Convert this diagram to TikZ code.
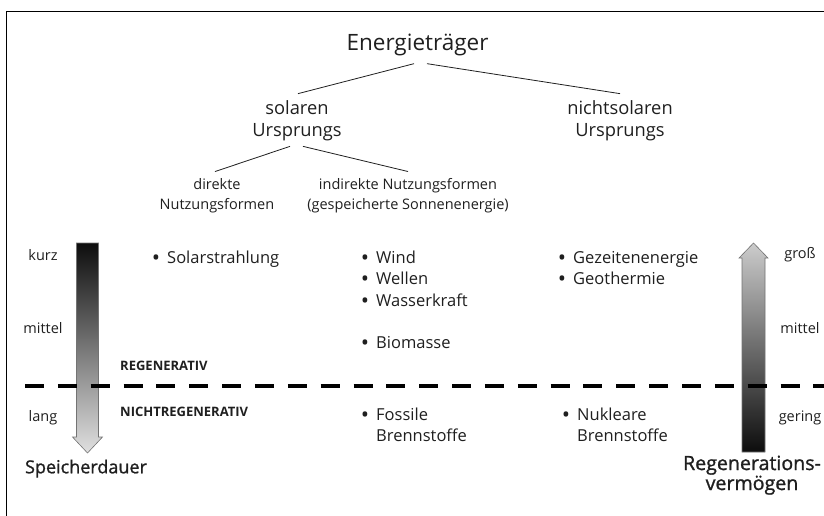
\documentclass[tikz,border=0pt]{standalone}
\usepackage{fontspec}
\setmainfont{Open Sans}
\newfontfamily\semibold[FakeBold=1.2]{Open Sans}
\usetikzlibrary{positioning}

\definecolor{ink}{gray}{0.12}
\newcommand{\bul}{\llap{\raisebox{-2.2pt}{\fontsize{22}{22}\selectfont\textbullet}\hspace{7pt}}}

\tikzset{
  top/.style={font=\fontsize{22.5}{27}\selectfont},
  origin/.style={font=\fontsize{18.3}{22}\selectfont, align=center},
  usage/.style={font=\fontsize{14.5}{20}\selectfont, align=center},
  entry/.style={font=\fontsize{16.5}{21.7}\selectfont, align=left, anchor=base west},
  scalelabel/.style={font=\fontsize{14.5}{17}\selectfont, anchor=base},
  classlabel/.style={font=\bfseries\fontsize{13}{15}\selectfont, anchor=base west},
  axislabel/.style={font=\semibold\fontsize{18}{18.3}\selectfont, align=center, anchor=base},
  branch/.style={draw=ink, line width=0.8pt},
  divider/.style={line width=4pt, dash pattern=on 19pt off 13.85pt},
  bararrow/.style={draw=black!55, line width=0.6pt}
}

\begin{document}
\begin{tikzpicture}[x=1pt,y=-1pt, every node/.style={inner sep=0pt, text=ink}]
  \useasboundingbox (0,0) rectangle (824,515);
  \draw[line width=1.2pt] (6.5,11.5) rectangle (840,530);

  % tree
  \node[top] (traeger) at (417.5,44.5) {Energieträger};
  \node[origin] (solar) at (297,121) {solaren\\Ursprungs};
  \node[origin] (nichtsolar) at (620,121) {nichtsolaren\\Ursprungs};
  \node[usage] (direkt) at (217,196) {direkte\\Nutzungsformen};
  \node[usage] (indirekt) at (408,196) {indirekte Nutzungsformen\\(gespeicherte Sonnenenergie)};

  \draw[branch] ([xshift=-3.5pt,yshift=-8pt]traeger.south) -- ([xshift=1pt,yshift=7pt]solar.north);
  \draw[branch] ([xshift=9.5pt,yshift=-8pt]traeger.south) -- ([yshift=7pt]nichtsolar.north);
  \draw[branch] ([xshift=-7pt,yshift=-5pt]solar.south) -- ([xshift=-2pt,yshift=7pt]direkt.north);
  \draw[branch] ([xshift=6pt,yshift=-5pt]solar.south) -- ([yshift=7pt]indirekt.north);

  % bars
  \shadedraw[bararrow, top color=black!95, bottom color=black!12]
    (76.5,243) -- (98.5,243) -- (98.5,437) -- (102.5,437) -- (87.5,453)
    -- (72.5,437) -- (76.5,437) -- cycle;
  \shadedraw[bararrow, top color=black!20, bottom color=black!95]
    (742,452) -- (742,258) -- (739,258) -- (753.5,243) -- (768,258)
    -- (765,258) -- (765,452) -- cycle;

  \draw[divider] (25,386) -- (824,386);

  % energy sources
  \node[entry] (solarstr) at (167,263) {\bul Solarstrahlung};
  \node[entry] (wind) at (376,263) {\bul Wind};
  \node[entry] (wellen) at (376,284.7) {\bul Wellen};
  \node[entry] (wasser) at (376,306.4) {\bul Wasserkraft};
  \node[entry] (bio) at (376,348.3) {\bul Biomasse};
  \node[entry] (gezeiten) at (573,263) {\bul Gezeitenenergie};
  \node[entry] (geo) at (573,284.7) {\bul Geothermie};
  \node[entry] (fossil) at (376,441.7) {\bul Fossile\\Brennstoffe};
  \node[entry] (nuklear) at (577,441.7) {\bul Nukleare\\Brennstoffe};

  \node[classlabel] (regen) at (120,370) {REGENERATIV};
  \node[classlabel] (nichtregen) at (120,416) {NICHTREGENERATIV};

  % scales
  \node[scalelabel] (kurz) at (43,260.7) {kurz};
  \node[scalelabel] (mittelL) at (43,333) {mittel};
  \node[scalelabel] (lang) at (43,421) {lang};
  \node[scalelabel] (gross) at (800,258) {groß};
  \node[scalelabel] (mittelR) at (800,333) {mittel};
  \node[scalelabel] (gering) at (800,421) {gering};

  \node[axislabel] (speicher) at (86,473.3) {Speicherdauer};
  \node[axislabel, font=\semibold\fontsize{19.6}{18.3}\selectfont] (regvermoegen) at (752,490) {Regenerations-\\vermögen};
\end{tikzpicture}
\end{document}
